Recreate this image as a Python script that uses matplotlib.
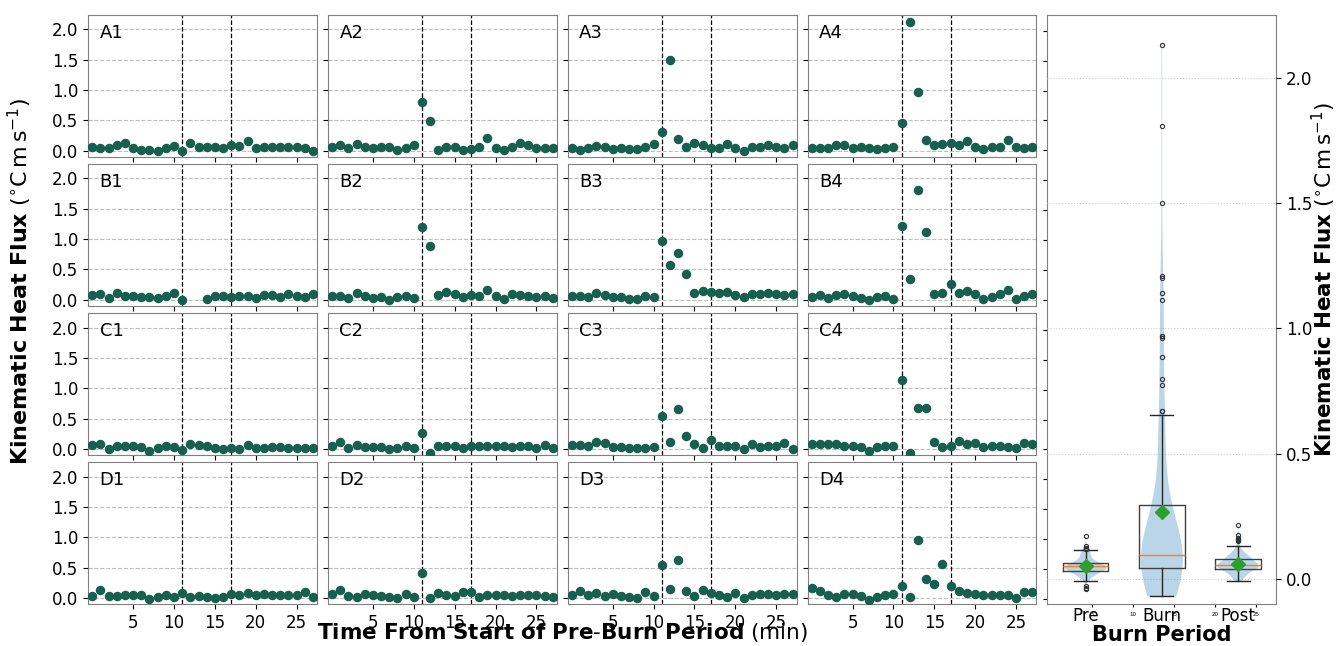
import numpy as np
import matplotlib.pyplot as plt

# minutes from start of pre-burn period
MINUTES = np.arange(28)
BURN_START, BURN_END = 11, 17
nan = np.nan

A1 = [0.055, 0.05, 0.05, 0.10, 0.12, 0.05, 0.02, 0.02, 0.0, 0.05, 0.08, 0.0, 0.12, 0.055,
      0.055, 0.07, 0.05, 0.09, 0.08, 0.165, 0.05, 0.055, 0.07, 0.07, 0.065, 0.06, 0.045, 0.0]
A2 = [0.055, 0.10, 0.05, 0.11, 0.06, 0.05, 0.055, 0.07, 0.02, 0.05, 0.095, 0.80, 0.49, 0.01,
      0.07, 0.07, 0.02, 0.035, 0.07, 0.215, 0.045, 0.015, 0.055, 0.12, 0.09, 0.05, 0.05, 0.04]
A3 = [0.04, 0.02, 0.05, 0.085, 0.07, 0.035, 0.04, 0.035, 0.03, 0.07, 0.115, 0.315, 1.50, 0.20,
      0.06, 0.12, 0.095, 0.05, 0.05, 0.115, 0.04, 0.0, 0.055, 0.07, 0.095, 0.065, 0.04, 0.09]
A4 = [0.045, 0.045, 0.05, 0.10, 0.10, 0.045, 0.065, 0.045, 0.03, 0.045, 0.055, 0.46, 2.13, 0.97,
      0.18, 0.10, 0.11, 0.12, 0.10, 0.155, 0.065, 0.03, 0.07, 0.07, 0.175, 0.055, 0.045, 0.07]
B1 = [0.08, 0.10, 0.03, 0.12, 0.07, 0.06, 0.05, 0.04, 0.03, 0.06, 0.11, 0.0, nan, nan,
      0.02, 0.07, 0.06, 0.05, 0.07, 0.06, 0.03, 0.08, 0.08, 0.05, 0.09, 0.07, 0.05, 0.10]
B2 = [0.065, 0.06, 0.035, 0.115, 0.055, 0.035, 0.04, 0.0, 0.045, 0.06, 0.035, 1.20, 0.885, 0.08,
      0.13, 0.10, 0.04, 0.08, 0.07, 0.16, 0.055, 0.01, 0.10, 0.08, 0.07, 0.05, 0.07, 0.035]
B3 = [0.06, 0.06, 0.04, 0.115, 0.085, 0.04, 0.05, 0.015, 0.015, 0.07, 0.05, 0.97, 0.575, 0.775,
      0.42, 0.105, 0.15, 0.13, 0.12, 0.125, 0.08, 0.05, 0.095, 0.09, 0.115, 0.09, 0.085, 0.09]
B4 = [0.05, 0.08, 0.035, 0.085, 0.09, 0.065, 0.03, 0.005, 0.04, 0.055, 0.02, 1.21, 0.34, 1.81,
      1.115, 0.095, 0.12, 0.26, 0.115, 0.15, 0.10, 0.02, 0.05, 0.09, 0.155, 0.02, 0.06, 0.10]
C1 = [0.065, 0.08, 0.0, 0.045, 0.045, 0.04, 0.03, -0.04, 0.01, 0.05, 0.03, -0.015, 0.08, 0.07,
      0.05, 0.02, 0.0, 0.02, -0.01, 0.06, 0.015, 0.02, 0.035, 0.03, 0.02, 0.02, 0.01, 0.01]
C2 = [0.055, 0.11, 0.02, 0.06, 0.035, 0.03, 0.03, 0.0, 0.02, 0.05, 0.015, 0.26, -0.06, 0.04,
      0.045, 0.045, 0.015, 0.05, 0.055, 0.05, 0.04, 0.04, 0.03, 0.04, 0.05, 0.015, 0.07, 0.01]
C3 = [0.07, 0.06, 0.04, 0.11, 0.10, 0.03, 0.03, 0.01, 0.02, 0.02, 0.03, 0.545, 0.11, 0.655,
      0.205, 0.08, 0.02, 0.15, 0.04, 0.05, 0.04, -0.01, 0.08, 0.035, 0.04, 0.04, 0.09, -0.005]
C4 = [0.085, 0.08, 0.08, 0.08, 0.055, 0.05, 0.035, -0.035, 0.035, 0.045, 0.04, 1.14, -0.07, 0.67,
      0.67, 0.12, 0.03, 0.04, 0.13, 0.085, 0.10, 0.03, 0.045, 0.05, 0.035, 0.015, 0.105, 0.08]
D1 = [0.04, 0.13, 0.03, 0.035, 0.045, 0.055, 0.045, -0.01, 0.02, 0.05, 0.015, 0.085, 0.02, 0.035,
      0.015, 0.0, 0.01, 0.065, 0.055, 0.08, 0.055, 0.065, 0.045, 0.05, 0.05, 0.045, 0.10, 0.01]
D2 = [0.065, 0.125, 0.04, 0.02, 0.06, 0.045, 0.04, 0.01, 0.005, 0.07, 0.02, 0.415, 0.005, 0.085,
      0.045, 0.04, 0.095, 0.095, 0.02, 0.055, 0.055, 0.05, 0.035, 0.05, 0.045, 0.05, 0.035, 0.015]
D3 = [0.055, 0.12, 0.045, 0.085, 0.04, 0.06, 0.035, 0.02, 0.005, 0.09, 0.04, 0.55, 0.155, 0.62,
      0.11, 0.035, 0.13, 0.08, 0.055, 0.015, 0.085, 0.0, 0.045, 0.065, 0.07, 0.055, 0.065, 0.07]
D4 = [0.17, 0.11, 0.055, 0.015, 0.06, 0.065, 0.04, -0.03, 0.02, 0.05, 0.06, 0.195, 0.02, 0.96,
      0.305, 0.225, 0.56, 0.195, 0.115, 0.08, 0.07, 0.05, 0.045, 0.045, 0.05, 0.0, 0.09, 0.09]

PANEL_NAMES = [['A1', 'A2', 'A3', 'A4'],
               ['B1', 'B2', 'B3', 'B4'],
               ['C1', 'C2', 'C3', 'C4'],
               ['D1', 'D2', 'D3', 'D4']]
PANEL_DATA = {'A1': A1, 'A2': A2, 'A3': A3, 'A4': A4,
              'B1': B1, 'B2': B2, 'B3': B3, 'B4': B4,
              'C1': C1, 'C2': C2, 'C3': C3, 'C4': C4,
              'D1': D1, 'D2': D2, 'D3': D3, 'D4': D4}
PERIODS = ['Pre', 'Burn', 'Post']

DOT_COLOR = '#17604d'
SPINE_COLOR = '0.5'
YLABEL = r'$\mathbf{Kinematic\ Heat\ Flux}$ ($^{\circ}$C$\,$m$\,$s$^{-1}$)'

plt.rcParams['font.size'] = 12

fig = plt.figure(figsize=(13.36, 6.46), dpi=100)
gs = fig.add_gridspec(4, 5, left=0.066, right=0.9553, top=0.977, bottom=0.065,
                      wspace=0.048, hspace=0.05)

ax0 = None
for r, row in enumerate(PANEL_NAMES):
    for c, name in enumerate(row):
        ax = fig.add_subplot(gs[r, c], sharex=ax0, sharey=ax0)
        if ax0 is None:
            ax0 = ax
        ax.scatter(MINUTES, PANEL_DATA[name], s=34, color=DOT_COLOR, zorder=3)
        ax.axvline(BURN_START, color='k', ls='--', lw=0.9, zorder=2)
        ax.axvline(BURN_END, color='k', ls='--', lw=0.9, zorder=2)
        ax.yaxis.grid(True, ls='--', color='0.75', lw=0.8)
        ax.set_axisbelow(True)
        ax.text(0.05, 0.935, name, transform=ax.transAxes, fontsize=13,
                ha='left', va='top')
        for sp in ax.spines.values():
            sp.set_color(SPINE_COLOR)
        ax.tick_params(labelleft=(c == 0), labelbottom=(r == 3))

ax0.set_xlim(-0.5, 27.5)
ax0.set_ylim(-0.1, 2.24)
ax0.set_xticks([5, 10, 15, 20, 25])
ax0.set_yticks([0.0, 0.5, 1.0, 1.5, 2.0])

fig.text(0.004, 0.565, YLABEL, rotation=90, ha='left', va='center', fontsize=16)
fig.text(562.5 / 1336, 1 - 633 / 646,
         r'$\mathbf{Time\ From\ Start\ of\ Pre}$-$\mathbf{Burn\ Period}$ (min)',
         ha='center', va='center', fontsize=15.5)

# right panel: pooled distributions by burn period
pre, burn, post = [], [], []
for vals in PANEL_DATA.values():
    for m, v in zip(MINUTES, vals):
        if np.isnan(v):
            continue
        if m < BURN_START:
            pre.append(v)
        elif m <= BURN_END:
            burn.append(v)
        else:
            post.append(v)

ax_base = fig.add_subplot(gs[:, 4])
ax_base.set_xlim(-0.5, 27.5)
ax_base.set_xticks([5, 10, 15, 20, 25])
ax_base.tick_params(axis='x', labelsize=4, length=2)
ax_base.set_ylim(-0.0084, 0.9766)
ax_base.set_yticks(np.arange(0, 0.97, 0.05))
ax_base.tick_params(axis='y', labelleft=False, length=3)
for sp in ax_base.spines.values():
    sp.set_color(SPINE_COLOR)

ax_box = ax_base.inset_axes([0, 0, 1, 1])
ax_box.patch.set_alpha(0)
for sp in ax_box.spines.values():
    sp.set_visible(False)
ax_box.violinplot([pre, burn, post], positions=[1, 2, 3], widths=0.55,
                  showextrema=False)
ax_box.boxplot([pre, burn, post], positions=[1, 2, 3], widths=0.6, showmeans=True,
               boxprops=dict(color='0.25', lw=1),
               whiskerprops=dict(color='0.15', lw=1),
               capprops=dict(color='0.15', lw=1),
               medianprops=dict(color='#ff7f0e', lw=1),
               meanprops=dict(marker='D', markerfacecolor='#2ca02c',
                              markeredgecolor='#2ca02c', markersize=7),
               flierprops=dict(marker='o', markersize=3, markerfacecolor='none',
                               markeredgecolor='0.2', markeredgewidth=0.8))
ax_box.set_xlim(0.5, 3.5)
ax_box.set_ylim(-0.1, 2.252)
ax_box.set_xticks([1, 2, 3])
ax_box.set_xticklabels(PERIODS)
ax_box.tick_params(axis='x', length=0, pad=2)
ax_box.yaxis.tick_right()
ax_box.set_yticks([0.0, 0.5, 1.0, 1.5, 2.0])
ax_box.yaxis.grid(True, ls=':', color='0.8', lw=0.8)
ax_box.set_axisbelow(True)
ax_box.yaxis.set_label_position('right')
ax_box.set_ylabel(YLABEL, fontsize=15.5)
ax_box.yaxis.set_label_coords(1.148, 0.55)
ax_box.set_xlabel('Burn Period', fontsize=15, fontweight='bold', labelpad=0)

fig.savefig('out.png', dpi=100)
